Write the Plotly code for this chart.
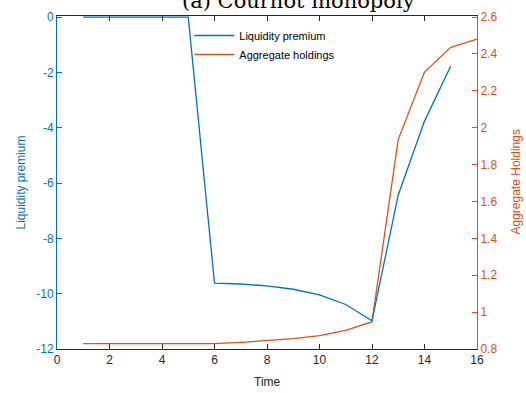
import plotly.graph_objects as go

time_lp = [1, 2, 3, 4, 5, 6, 7, 8, 9, 10, 11, 12, 13, 14, 15]
liquidity_premium = [0, 0, 0, 0, 0, -9.62, -9.65, -9.72, -9.84, -10.04, -10.39, -10.98, -6.43, -3.76, -1.77]
time_ah = [1, 2, 3, 4, 5, 6, 7, 8, 9, 10, 11, 12, 13, 14, 15, 16]
aggregate_holdings = [0.829, 0.829, 0.829, 0.829, 0.829, 0.829, 0.836, 0.845, 0.856, 0.872, 0.901, 0.948, 1.937, 2.302, 2.436, 2.481]

lp_ticks = [0, -2, -4, -6, -8, -10, -12]
lp_labels = ["0", "-2", "-4", "-6", "-8", "-10", "-12"]
ah_ticks = [0.8, 1.0, 1.2, 1.4, 1.6, 1.8, 2.0, 2.2, 2.4, 2.6]
ah_labels = ["0.8", "1", "1.2", "1.4", "1.6", "1.8", "2", "2.2", "2.4", "2.6"]
time_ticks = [0, 2, 4, 6, 8, 10, 12, 14, 16]

BLUE = "#0072BD"
ORANGE = "#D95319"
GREY = "#262626"
FONT = "Liberation Sans"

W, H = 526, 393
ML, MR, MT, MB = 57, 49, 16, 44
PW, PH = W - ML - MR, H - MT - MB

# small headroom so the line lying on the top edge is not half-clipped
LP_RANGE = [-12, 0.04]
AH_RANGE = [0.8, 2.606]

fig = go.Figure()
fig.add_trace(go.Scatter(x=time_lp, y=liquidity_premium, mode="lines", name="Liquidity premium",
                         line=dict(color=BLUE, width=1.3), yaxis="y2"))
fig.add_trace(go.Scatter(x=time_ah, y=aggregate_holdings, mode="lines", name="Aggregate holdings",
                         line=dict(color=ORANGE, width=1.3), yaxis="y"))

fig.update_layout(
    width=W, height=H,
    margin=dict(l=ML, r=MR, t=MT, b=MB, autoexpand=False),
    paper_bgcolor="white", plot_bgcolor="white",
    font=dict(family=FONT, size=11, color=GREY),
    showlegend=True,
    legend=dict(x=0.315, y=0.985, xanchor="left", yanchor="top", bgcolor="rgba(255,255,255,0)",
                font=dict(family=FONT, size=11, color="#000000"), itemwidth=40,
                tracegroupgap=0, traceorder="normal"),
    xaxis=dict(range=[0, 16], tickvals=time_ticks, ticks="inside", ticklen=5, tickcolor=GREY,
               showline=True, linecolor=GREY, linewidth=1, mirror="ticks", showgrid=False, zeroline=False,
               layer="below traces", automargin=False,
               tickfont=dict(size=12, color=GREY)),
    yaxis=dict(range=AH_RANGE, tickvals=ah_ticks, ticktext=ah_labels, side="right",
               ticks="inside", ticklen=5, tickcolor=ORANGE,
               showline=True, linecolor=ORANGE, linewidth=1, showgrid=False, zeroline=False,
               layer="below traces", automargin=False,
               tickfont=dict(size=12, color=ORANGE)),
    yaxis2=dict(range=LP_RANGE, tickvals=lp_ticks, ticktext=lp_labels, side="left",
                overlaying="y", anchor="x",
                ticks="inside", ticklen=5, tickcolor=BLUE,
                showline=True, linecolor=BLUE, linewidth=1, showgrid=False, zeroline=False,
                layer="below traces", automargin=False,
                tickfont=dict(size=12, color=BLUE)),
)

# axis titles
fig.add_annotation(text="Time", xref="paper", yref="paper", x=0.5, y=-(382 - MT - PH) / PH,
                   xanchor="center", yanchor="middle", showarrow=False,
                   font=dict(family=FONT, size=12, color=GREY))
fig.add_annotation(text="Liquidity premium", xref="paper", yref="paper", x=-(ML - 20) / PW, y=0.5,
                   xanchor="center", yanchor="middle", textangle=-90, showarrow=False,
                   font=dict(family=FONT, size=12, color=BLUE))
fig.add_annotation(text="Aggregate Holdings", xref="paper", yref="paper", x=1 + (515 - ML - PW) / PW, y=0.5,
                   xanchor="center", yanchor="middle", textangle=-90, showarrow=False,
                   font=dict(family=FONT, size=12, color=ORANGE))

# title (partially cut off at the top of the figure, as in the reference)
fig.add_annotation(text="(a) Cournot monopoly", xref="paper", yref="paper", x=(298 - ML) / PW, y=1.0,
                   xanchor="center", yanchor="bottom", yshift=1, showarrow=False,
                   font=dict(family="DejaVu Serif", size=21, color="#000000"))

fig.write_html("out.html")
